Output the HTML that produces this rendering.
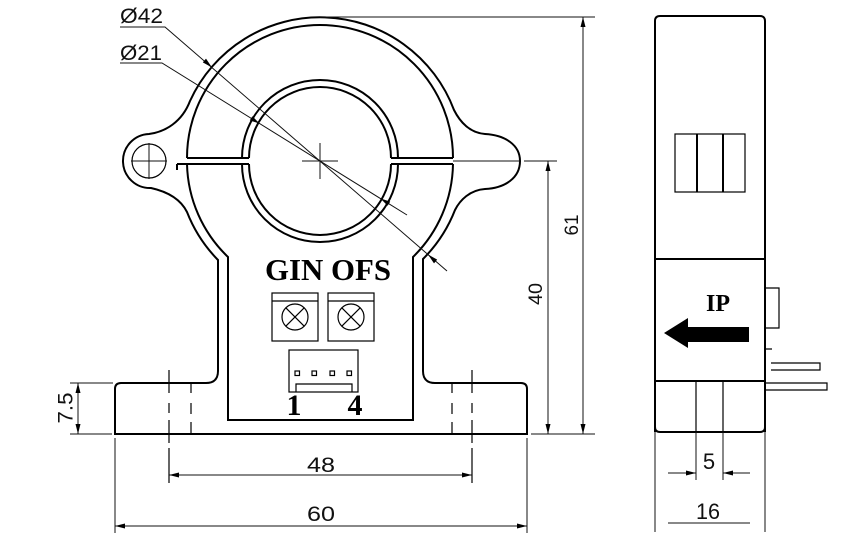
<!DOCTYPE html>
<html>
<head>
<meta charset="utf-8">
<style>
html,body{margin:0;padding:0;background:#fff;}
svg{display:block;}
.o{fill:none;stroke:#000;stroke-width:2;}
.t{fill:none;stroke:#000;stroke-width:1.2;}
.d{fill:none;stroke:#111;stroke-width:1;}
.a{fill:#000;stroke:none;}
.cad{font-family:"Liberation Sans",sans-serif;fill:#111;}
.bs{font-family:"Liberation Serif",serif;font-weight:bold;fill:#000;}
</style>
</head>
<body>
<svg width="858" height="545" viewBox="0 0 858 545" xmlns="http://www.w3.org/2000/svg">
<!-- Housing outer -->
<path class="o" d="M218,260 A143,143 0 0 1 187,212 Q178,194 151,188 A27,27 0 0 1 149,134 C165,132 182,122 190,101 A143,143 0 0 1 454,110 C460,122 470,133 485,134 C505,135 520,145 520,161 C520,178 505,188 485,189 C470,190 460,200 455,210 A143,143 0 0 1 423,259 L423,371 Q423,383 435,383 L521,383 Q527,383 527,389 L527,434 L115,434 L115,389 Q115,383 121,383 L206,383 Q218,383 218,371 Z"/>
<!-- inner line R133 -->
<path class="o" d="M187,158 A133,133 0 0 1 453,158"/>
<path class="o" d="M187,164 A133,133 0 0 0 228,257 L228,420 L413,420 L413,257 A133,133 0 0 0 453,164"/>
<!-- ring -->
<path class="o" d="M242,158 A78,78 0 0 1 398,158 M391,158 A71,71 0 0 0 249,158"/>
<path class="o" d="M242,164 A78,78 0 0 0 398,164 M391,164 A71,71 0 0 1 249,164"/>
<!-- slots -->
<path class="o" d="M187,158 L249,158 M177,164 L249,164 M177,164 L177,170"/>
<path class="o" d="M391,158 L453,158 M391,164 L453,164"/>
<path class="d" d="M453,161 L520,161 M524,161 L557,161"/>
<!-- ear hole -->
<circle class="t" cx="149" cy="161" r="17"/>
<path class="d" d="M131,161 L167,161 M149,143 L149,179"/>
<!-- center cross -->
<path class="d" d="M302,161 L338,161 M320,143 L320,179"/>
<!-- leaders -->
<path class="d" d="M120,27 L165,27 L447,271"/>
<polygon class="a" points="212,67.5 202.8,62.4 206,58.6"/>
<polygon class="a" points="428,254.5 437.2,259.6 434,263.4"/>
<path class="d" d="M120,63 L162,63 L407,215"/>
<polygon class="a" points="259.6,123.6 249.8,120.4 252.4,116.2"/>
<polygon class="a" points="380.4,198.4 390.2,201.6 387.6,205.8"/>
<text class="cad" x="120" y="23" font-size="21" textLength="43" lengthAdjust="spacingAndGlyphs">Ø42</text>
<text class="cad" x="120" y="60" font-size="21" textLength="42" lengthAdjust="spacingAndGlyphs">Ø21</text>
<!-- 61 & 40 dims -->
<path class="d" d="M320,17 L595,17 M531,434 L595,434 M583,17 L583,434 M548,161 L548,434"/>
<polygon class="a" points="583,17 580.5,27 585.5,27"/>
<polygon class="a" points="583,434 580.5,424 585.5,424"/>
<polygon class="a" points="548,161 545.5,171 550.5,171"/>
<polygon class="a" points="548,434 545.5,424 550.5,424"/>
<text class="cad" transform="translate(571,225) rotate(-90)" x="0" y="7" font-size="19" text-anchor="middle" textLength="21" lengthAdjust="spacingAndGlyphs">61</text>
<text class="cad" transform="translate(535,294) rotate(-90)" x="0" y="7" font-size="19" text-anchor="middle" textLength="22" lengthAdjust="spacingAndGlyphs">40</text>
<!-- 7.5 dim -->
<path class="d" d="M70,383 L113,383 M70,434 L112,434 M78,383 L78,434"/>
<polygon class="a" points="78,383 75.5,393 80.5,393"/>
<polygon class="a" points="78,434 75.5,424 80.5,424"/>
<text class="cad" transform="translate(65,408) rotate(-90)" x="0" y="7.5" font-size="21" text-anchor="middle" textLength="31" lengthAdjust="spacingAndGlyphs">7.5</text>
<!-- centerlines and hidden lines -->
<path class="t" d="M169,370 L169,393 M169,403 L169,413 M169,420 L169,443 M169,448 L169,483"/>
<path class="t" d="M472,370 L472,393 M472,403 L472,413 M472,420 L472,443 M472,448 L472,483"/>
<path class="t" d="M191,383 L191,393 M191,403 L191,414 M191,422 L191,434"/>
<path class="t" d="M452,383 L452,393 M452,403 L452,414 M452,422 L452,434"/>
<!-- 48 / 60 dims -->
<path class="d" d="M169,475 L472,475 M115,438 L115,533 M527,438 L527,533 M115,526 L527,526"/>
<polygon class="a" points="169,475 179,472.5 179,477.5"/>
<polygon class="a" points="472,475 462,472.5 462,477.5"/>
<polygon class="a" points="115,526 125,523.5 125,528.5"/>
<polygon class="a" points="527,526 517,523.5 517,528.5"/>
<text class="cad" x="321" y="472" font-size="21" text-anchor="middle" textLength="28" lengthAdjust="spacingAndGlyphs">48</text>
<text class="cad" x="321" y="521" font-size="21" text-anchor="middle" textLength="28" lengthAdjust="spacingAndGlyphs">60</text>
<!-- inner box content -->
<text class="bs" x="265" y="280" font-size="31" textLength="126" lengthAdjust="spacingAndGlyphs">GIN OFS</text>
<rect class="t" x="272" y="293" width="46" height="48" stroke-width="1.5"/>
<path class="t" d="M272,301 L318,301"/>
<circle class="t" cx="295" cy="317" r="13"/>
<path class="t" d="M285.8,307.8 L304.2,326.2 M304.2,307.8 L285.8,326.2"/>
<rect class="t" x="328" y="293" width="46" height="48" stroke-width="1.5"/>
<path class="t" d="M328,301 L374,301"/>
<circle class="t" cx="351" cy="317" r="13"/>
<path class="t" d="M341.8,307.8 L360.2,326.2 M360.2,307.8 L341.8,326.2"/>
<rect class="t" x="289" y="350" width="69" height="42" stroke-width="1.5"/>
<rect class="t" x="295" y="371" width="4.5" height="4.5"/>
<rect class="t" x="312" y="371" width="4.5" height="4.5"/>
<rect class="t" x="330" y="371" width="4.5" height="4.5"/>
<rect class="t" x="347" y="371" width="4.5" height="4.5"/>
<path class="t" d="M296,392 L296,384 L352,384 L352,392"/>
<text class="bs" x="294" y="415" font-size="30" text-anchor="middle">1</text>
<text class="bs" x="355" y="415" font-size="30" text-anchor="middle">4</text>
<!-- Side view -->
<path class="o" d="M655,432 L655,21 Q655,16 660,16 L760,16 Q765,16 765,21 L765,432"/>
<path class="o" d="M655,427 Q655,432 660,432 L760,432 Q765,432 765,427"/>
<path class="d" d="M655,432 L655,532 M765,432 L765,532"/>
<path class="o" d="M655,259 L765,259 M655,381 L765,381"/>
<rect class="t" x="675" y="134" width="70" height="58" stroke-width="1.5"/>
<path class="o" d="M697,134 L697,192 M723,134 L723,192"/>
<path class="t" d="M696,381 L696,432 M723,381 L723,432"/>
<path class="d" d="M696,432 L696,480 M723,432 L723,480"/>
<text class="bs" x="718" y="311" font-size="24" text-anchor="middle">IP</text>
<polygon class="a" points="664,333 688,318 688,327 749,327 749,342 688,342 688,348"/>
<path class="t" d="M765,288 L779,288 L779,328 L765,328 M765,349 L772,349" stroke-width="1.5"/>
<path class="t" d="M771,363 L820,363 L820,370 L771,370 M766,383 L827,383 L827,390 L766,390" stroke-width="1.5"/>
<!-- 5 dim -->
<path class="d" d="M668,473 L696,473 M723,473 L750,473"/>
<polygon class="a" points="696,473 686,470.5 686,475.5"/>
<polygon class="a" points="723,473 733,470.5 733,475.5"/>
<text class="cad" x="709" y="469" font-size="22" text-anchor="middle">5</text>
<!-- 16 dim -->
<path class="d" d="M668,523 L750,523"/>
<text class="cad" x="708" y="519" font-size="22" text-anchor="middle" textLength="24" lengthAdjust="spacingAndGlyphs">16</text>
</svg>
</body>
</html>
